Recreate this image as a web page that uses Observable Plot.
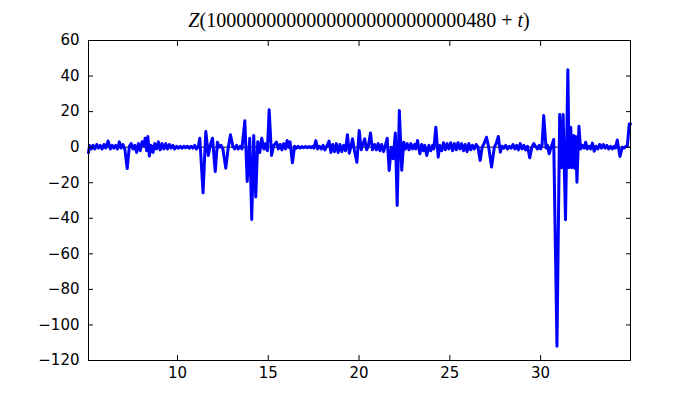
<!DOCTYPE html>
<html>
<head>
<meta charset="utf-8">
<script src="https://cdn.jsdelivr.net/npm/d3@7"></script>
<script src="https://cdn.jsdelivr.net/npm/@observablehq/plot@0.6"></script>
<style>
  html, body { margin: 0; padding: 0; background: #fff; }
  #chart svg { display: block; }
</style>
</head>
<body>
<div id="chart"></div>
<script>
// t values (x) and Z values (y)
const ts = [
  5.10, 5.16, 5.25, 5.35, 5.45, 5.55, 5.65, 5.75, 5.85, 5.95,
  6.05, 6.18, 6.30, 6.40, 6.50, 6.60, 6.70, 6.80, 6.90, 7.00,
  7.10, 7.23, 7.35, 7.45, 7.55, 7.65, 7.75, 7.85, 7.95, 8.05,
  8.15, 8.22, 8.30, 8.37, 8.45, 8.55, 8.65, 8.75, 8.85, 8.95,
  9.05, 9.15, 9.25, 9.35, 9.45, 9.55, 9.65, 9.75, 9.85, 9.95,
  10.05, 10.15, 10.25, 10.35, 10.45, 10.55, 10.65, 10.75, 10.85, 10.95,
  11.05, 11.15, 11.23, 11.41, 11.56, 11.70, 11.80, 11.93, 12.08, 12.20,
  12.30, 12.40, 12.50, 12.66, 12.80, 12.92, 13.05, 13.15, 13.25, 13.35,
  13.45, 13.55, 13.71, 13.84, 13.98, 14.09, 14.20, 14.31, 14.42, 14.53,
  14.64, 14.76, 14.85, 14.95, 15.05, 15.18, 15.30, 15.45, 15.55, 15.65,
  15.75, 15.85, 15.95, 16.04, 16.12, 16.20, 16.33, 16.45, 16.55, 16.65,
  16.75, 16.85, 16.95, 17.05, 17.15, 17.25, 17.35, 17.45, 17.52, 17.62,
  17.72, 17.82, 17.92, 18.02, 18.12, 18.22, 18.35, 18.45, 18.55, 18.65,
  18.75, 18.85, 18.95, 19.05, 19.15, 19.25, 19.36, 19.46, 19.55, 19.64,
  19.75, 19.88, 20.01, 20.12, 20.20, 20.31, 20.42, 20.52, 20.63, 20.74,
  20.85, 20.95, 21.05, 21.15, 21.25, 21.35, 21.45, 21.55, 21.66, 21.78,
  21.88, 22.00, 22.10, 22.22, 22.35, 22.46, 22.55, 22.65, 22.75, 22.85,
  22.95, 23.05, 23.12, 23.22, 23.35, 23.45, 23.55, 23.62, 23.73, 23.85,
  23.95, 24.05, 24.12, 24.23, 24.36, 24.45, 24.55, 24.65, 24.75, 24.85,
  24.95, 25.05, 25.15, 25.25, 25.35, 25.45, 25.55, 25.65, 25.75, 25.85,
  25.95, 26.05, 26.15, 26.25, 26.35, 26.45, 26.55, 26.67, 26.78, 26.88,
  27.02, 27.14, 27.30, 27.45, 27.55, 27.67, 27.78, 27.88, 27.98, 28.08,
  28.18, 28.28, 28.38, 28.48, 28.58, 28.68, 28.78, 28.88, 28.98, 29.08,
  29.18, 29.28, 29.40, 29.52, 29.62, 29.72, 29.82, 29.92, 30.00, 30.08,
  30.17, 30.30, 30.38, 30.47, 30.58, 30.72, 30.90, 31.05, 31.15, 31.24,
  31.37, 31.50, 31.57, 31.66, 31.73, 31.82, 31.89, 31.93, 32.00, 32.11,
  32.20, 32.30, 32.40, 32.48, 32.57, 32.67, 32.76, 32.85, 32.95, 33.05,
  33.15, 33.25, 33.35, 33.45, 33.55, 33.65, 33.75, 33.85, 33.95, 34.05,
  34.12, 34.22, 34.37, 34.50, 34.60, 34.70, 34.78, 34.88, 34.95
];
const zs = [
  -3, 1, -1, 1, -1, 1.5, -0.5, 1, -1, 1.5,
  -0.5, 3.5, -1, 1, -0.5, 1, -1, 3, -0.5, 1.5,
  -1, -12, 0.5, 2, -1, 1, -3, 2, -2, 3,
  1, 5, -2, 6, -5, 1, -3, 2, -1, 3,
  -1.5, 2, -1, 2, -1, 1.5, -0.5, 1, -1, 0.5,
  -0.5, 0.5, -0.5, 0.5, -0.3, 0.5, -0.5, 0.5, -0.5, 1,
  -1, 0.5, 5, -25.7, 8.8, -4.7, 1, 5, -13.7, 2.8,
  0, 1, -1, -11.8, 0, 7, 0.5, -1, 1, -1,
  0.5, -1, 14.8, -19.3, 5, -40.7, 6.6, -28, 3, -3,
  5, -1, 2, -2, 21, -4.7, 1, 2.8, -1, 1.5,
  -1.5, 2, -1, 3.7, 0, 3, -8.8, 0.5, -0.5, 0.5,
  -0.5, 0.3, -0.3, 0.3, -0.3, 0.3, -0.3, 0.5, -0.5, 3.7,
  -1, 0.5, -1, 1, -1.5, 0.5, 3.4, -3, 1.5, -2.5,
  2, -3, 1.5, -2.5, 1, -2, 7, -3.4, 0, 4.7,
  -2, -8.5, 9.4, -1.5, 1, 4.7, -1.5, 1, 8, -1.5,
  1.5, -1.5, 2, -2, 1.5, -2.5, 1, 5, -13.1, 0,
  -6.5, 8, -32.8, 20.6, -13, 2.8, -1, 2, -1.5, 2,
  -1, 1.5, -1, 3.7, -3.7, 1.5, -2, 1, -4.7, 1,
  -2, 1, -1, 11.2, -5.6, 1, -2, 2.5, -1.5, 2,
  -1, 2.5, -2, 2, -1.5, 2.5, -1, 2, -2, 1.5,
  -2.5, 2, -1.5, 1, -1, 1.5, 0, -7.5, 0, 2,
  5.6, 0, -11.2, 0, 2, 6, -2.8, 0.5, -0.5, 1,
  -1, 0.5, -0.5, 1.5, -1, 1, -1.5, 2, -1, 1,
  -1.5, 0.5, -6, 0, 2, 0.5, -1, 1, -1, 1,
  17.8, -0.5, 1, -3.7, 0, 4.3, -112, 18.4, -11.6, 18.4,
  -40.8, 43.5, -11.6, 11.2, -11.6, 6.6, -12, 6, -19.7, 11.8,
  -1, 1, -0.5, 2.8, -1, 0.5, -1, 2.3, -2.3, 0.5,
  -1, 1.5, -0.5, 1.5, -0.5, 1, -1, 0.5, -1, 0.5,
  -0.5, 4, -5.2, 0, -0.5, 0.5, 1, 13, 13
];
const xTicks = [10, 15, 20, 25, 30];
const yTicks = [-120, -100, -80, -60, -40, -20, 0, 20, 40, 60];
const xDomain = [5.1, 34.95];
const yDomain = [-120, 60];
const titleParts = [
  {text: "Z", italic: true},
  {text: "(10000000000000000000000000480 + ", italic: false},
  {text: "t", italic: true},
  {text: ")", italic: false}
];

const fmt = d => d < 0 ? "\u2212" + Math.abs(d) : String(d);
const data = d3.zip(ts, zs);

const chart = Plot.plot({
  width: 700,
  height: 400,
  marginLeft: 88,
  marginRight: 70,
  marginTop: 40,
  marginBottom: 40,
  style: {fontFamily: "'DejaVu Sans', sans-serif", fontSize: "15px", color: "#000", background: "#fff"},
  x: {domain: xDomain},
  y: {domain: yDomain},
  marks: [
    Plot.ruleY([0], {stroke: "#000", strokeWidth: 1}),
    Plot.line(data, {x: d => d[0], y: d => d[1], stroke: "#0000ff", strokeWidth: 3, strokeLinejoin: "round", strokeLinecap: "round"}),
    Plot.frame({stroke: "#000", strokeWidth: 1}),
    Plot.axisX({anchor: "bottom", ticks: xTicks, tickSize: -5, tickPadding: 12, tickFormat: fmt, label: null, stroke: "#000"}),
    Plot.axisX({anchor: "top", ticks: xTicks, tickSize: -5, tickFormat: () => "", label: null, stroke: "#000"}),
    Plot.axisY({anchor: "left", ticks: yTicks, tickSize: -5, tickPadding: 14, tickFormat: fmt, label: null, stroke: "#000"}),
    Plot.axisY({anchor: "right", ticks: yTicks, tickSize: -5, tickFormat: () => "", label: null, stroke: "#000"})
  ]
});

document.getElementById("chart").appendChild(chart);

const xr = chart.scale("x").range;
const title = d3.select(chart).append("text")
  .attr("x", (xr[0] + xr[1]) / 2)
  .attr("y", 27)
  .attr("text-anchor", "middle")
  .attr("font-family", "'Liberation Serif', 'DejaVu Serif', serif")
  .attr("font-size", 20)
  .attr("fill", "#000");
titleParts.forEach(p => {
  title.append("tspan").attr("font-style", p.italic ? "italic" : "normal").text(p.text);
});
</script>
</body>
</html>
